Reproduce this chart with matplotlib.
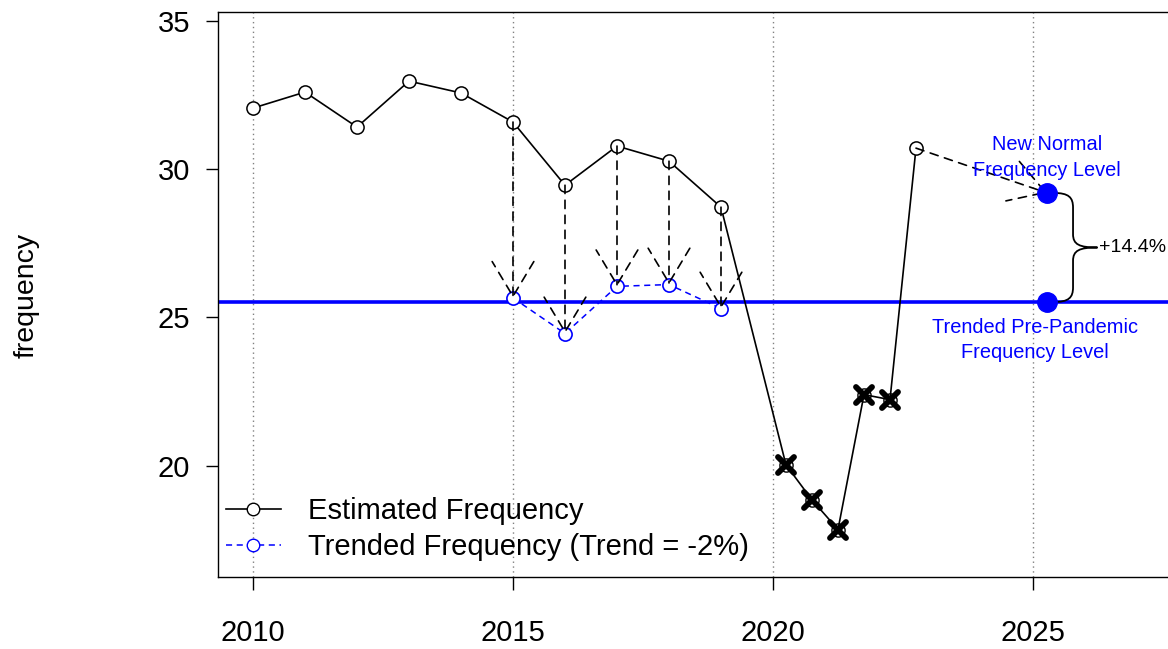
import numpy as np
import matplotlib
matplotlib.use("Agg")
import matplotlib.pyplot as plt
from matplotlib.patches import FancyArrowPatch, PathPatch
from matplotlib.path import Path
from matplotlib.lines import Line2D
from matplotlib.markers import MarkerStyle

plt.rcParams['font.family'] = ['Liberation Sans', 'DejaVu Sans']

# ---- data ----
pre_years = [2010, 2011, 2012, 2013, 2014, 2015, 2016, 2017, 2018, 2019]
pre_freq = [32.06, 32.60, 31.42, 32.97, 32.57, 31.59, 29.46, 30.78, 30.27, 28.72]
pand_years = [2020.25, 2020.75, 2021.25, 2021.75, 2022.25]
pand_freq = [20.03, 18.85, 17.85, 22.40, 22.23]
post_years = [2022.75]
post_freq = [30.71]
trend_years = [2015, 2016, 2017, 2018, 2019]
trend_freq = [25.66, 24.46, 26.05, 26.11, 25.30]
level_year = 2025.27
pre_level = 25.52
new_level = 29.20
x_ticks = [2010, 2015, 2020, 2025]
y_ticks = [20, 25, 30, 35]
legend_labels = ["Estimated Frequency", "Trended Frequency (Trend = -2%)"]

fig = plt.figure(figsize=(11.68, 6.49), dpi=100)
ax = fig.add_axes([218/1168, 1-577/649, (1180-218)/1168, (577-12)/649])
ax.set_xlim(2009.327, 2027.827)
ax.set_ylim(16.25, 35.3)

for xv in x_ticks:
    ax.axvline(xv, color='#808080', ls=(0, (1, 2.5)), lw=1.0, zorder=0)

all_x = pre_years + pand_years + post_years
all_y = pre_freq + pand_freq + post_freq
ax.plot(all_x, all_y, color='black', lw=1.2, zorder=3)
ax.plot(pre_years + post_years, pre_freq + post_freq, ls='none', marker='o',
        ms=9.5, mfc='white', mec='black', mew=1.1, zorder=4)
ax.plot(pand_years, pand_freq, ls='none', marker='o', ms=9.5, mfc='none', mec='black', mew=1.0, zorder=4)
ax.plot(pand_years, pand_freq, ls='none', marker=MarkerStyle('x', capstyle='round'),
        ms=11.5, mec='black', mew=4.2, zorder=4)

ax.axhline(pre_level, color='#0000ff', lw=2.6, zorder=2)
ax.plot(trend_years, trend_freq, color='#0000ff', ls=(0, (4, 3)), lw=1.1, marker='o',
        ms=9.5, mfc='white', mec='#0000ff', mew=1.2, zorder=5)

def darrow(x0, y0, x1, y1):
    a = FancyArrowPatch((x0, y0), (x1, y1), arrowstyle='->,head_length=25,head_width=15',
                        mutation_scale=1, shrinkA=0, shrinkB=0, color='black',
                        lw=1.2, ls=(0, (5, 4)), zorder=6)
    ax.add_patch(a)

for xv, y0, y1 in zip(trend_years, pre_freq[5:], trend_freq):
    darrow(xv, y0, xv, y1)
darrow(post_years[0], post_freq[0], level_year, new_level)

ax.plot([level_year, level_year], [new_level, pre_level], ls='none', marker='o', ms=14,
        color='#0000ff', zorder=7)

ymid = (new_level + pre_level) / 2
xb = level_year
verts = [
    (xb + 0.12, new_level),
    (xb + 0.42, new_level), (xb + 0.5, new_level - 0.15), (xb + 0.5, new_level - 0.5),
    (xb + 0.5, ymid + 0.45),
    (xb + 0.5, ymid + 0.1), (xb + 0.62, ymid), (xb + 0.97, ymid),
    (xb + 0.62, ymid), (xb + 0.5, ymid - 0.1), (xb + 0.5, ymid - 0.45),
    (xb + 0.5, pre_level + 0.5),
    (xb + 0.5, pre_level + 0.15), (xb + 0.42, pre_level), (xb + 0.12, pre_level),
]
codes = [Path.MOVETO, Path.CURVE4, Path.CURVE4, Path.CURVE4, Path.LINETO,
         Path.CURVE4, Path.CURVE4, Path.CURVE4, Path.CURVE4, Path.CURVE4, Path.CURVE4,
         Path.LINETO, Path.CURVE4, Path.CURVE4, Path.CURVE4]
ax.add_patch(PathPatch(Path(verts, codes), fill=False, lw=1.3, color='black', zorder=6))
ax.text(xb + 1.0, ymid, "+%.1f%%" % ((new_level / pre_level - 1) * 100), fontsize=14,
        ha='left', va='center')

ax.text(level_year, 30.39, "New Normal\nFrequency Level", color='#0000ff', fontsize=14.4,
        ha='center', va='center', linespacing=1.45, zorder=8)
ax.text(2025.04, 24.24, "Trended Pre-Pandemic\nFrequency Level", color='#0000ff',
        fontsize=14.4, ha='center', va='center', linespacing=1.45, zorder=8)

ax.set_xticks(x_ticks)
ax.set_yticks(y_ticks)
ax.tick_params(axis='x', length=9, width=1, pad=21, labelsize=21)
ax.tick_params(axis='y', length=9, width=1, pad=11, labelsize=21)
for s in ax.spines.values():
    s.set_linewidth(1.0)

fig.text(27/1168, 1 - 295/649, "frequency", rotation=90, fontsize=20.5, ha='center', va='center')

h1 = Line2D([], [], color='black', lw=1.2, marker='o', ms=9, mfc='white', mec='black')
h2 = Line2D([], [], color='#0000ff', lw=1.1, ls=(0, (4, 3)), marker='o', ms=9, mfc='white', mec='#0000ff')
ax.legend([h1, h2], legend_labels, loc='lower left', bbox_to_anchor=(-0.0132, -0.008), frameon=False,
          fontsize=21, handlelength=1.9, handletextpad=0.93, labelspacing=0.27, borderaxespad=0.3)

fig.savefig("out.png", dpi=100)
